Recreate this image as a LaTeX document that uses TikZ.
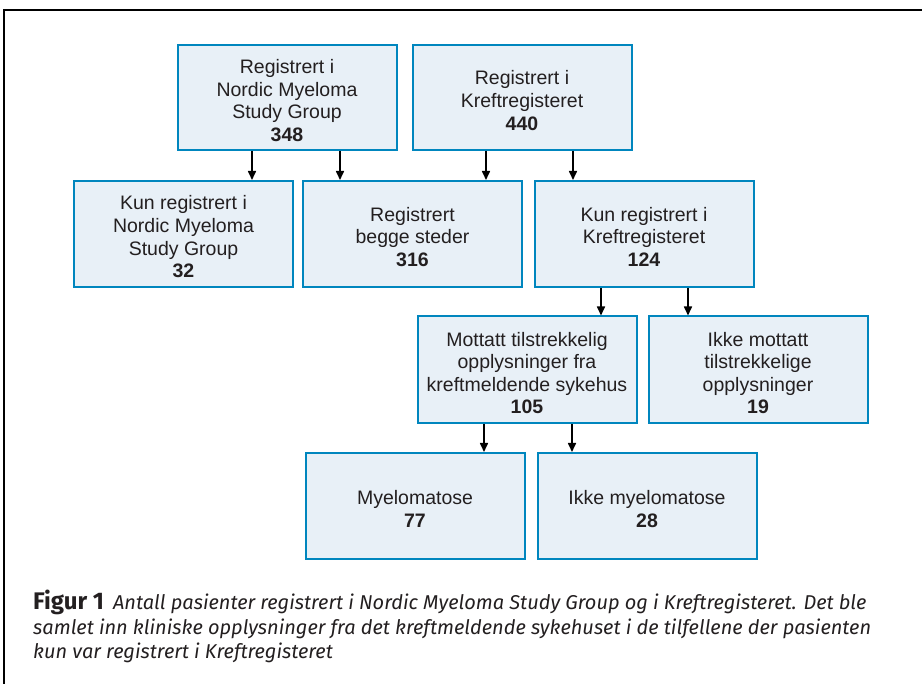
\documentclass[tikz,border=0pt]{standalone}
\usepackage{fontspec}
\setmainfont{Liberation Sans}
\newfontfamily\capfont{Fira Sans}
\usetikzlibrary{arrows.meta,calc}
\definecolor{boxblue}{RGB}{0,134,190}
\definecolor{boxfill}{RGB}{232,240,247}
\definecolor{txt}{RGB}{35,31,32}
\newcommand{\topgap}{\rule{0pt}{20pt}}
\begin{document}
\begin{tikzpicture}[x=1pt,y=-1pt,
  box/.style={draw=boxblue,fill=boxfill,line width=2pt,minimum width=219pt,
    minimum height=105pt,inner sep=0pt,align=center,
    font=\fontsize{19.5}{22.6}\selectfont,text=txt},
  arr/.style={line width=1.6pt,-{Triangle[length=9pt,width=8pt]},draw=black},
  frame/.style={line width=2.5pt,draw=black},
  captext/.style={anchor=north west,inner sep=0pt,align=left,text=txt,
    font=\capfont\fontsize{20}{24.5}\selectfont}]
\useasboundingbox (0,0) rectangle (922,684);
% frame
\coordinate (f1) at (922,10);
\coordinate (f0) at (4,10);
\coordinate (f2) at (4,684);
\draw[frame] (f1) -- (f0) -- (f2);
% boxes
\node[box] (A) at (287,97.5) {\topgap Registrert i\\Nordic Myeloma\\Study Group\\\textbf{348}};
\node[box] (B) at (522,97.5) {\topgap Registrert i\\Kreftregisteret\\\textbf{440}};
\node[box,minimum height=106pt] (C) at (183.5,234) {\topgap Kun registrert i\\Nordic Myeloma\\Study Group\\\textbf{32}};
\node[box,minimum height=106pt] (D) at (412.5,234) {\topgap Registrert\\begge steder\\\textbf{316}};
\node[box,minimum height=106pt] (E) at (644,234) {\topgap Kun registrert i\\Kreftregisteret\\\textbf{124}};
\node[box,minimum height=107pt] (F) at (527,370) {\topgap Mottatt tilstrekkelig\\opplysninger fra\\kreftmeldende sykehus\\\textbf{105}};
\node[box,minimum height=107pt] (G) at (758,370) {\topgap Ikke mottatt\\tilstrekkelige\\opplysninger\\\textbf{19}};
\node[box,minimum height=106pt] (H) at (415,506) {\topgap Myelomatose\\\textbf{77}};
\node[box,minimum height=106pt] (I) at (647,506) {\topgap Ikke myelomatose\\\textbf{28}};
% arrow start points
\path (A.south) ++(-35,0) coordinate (a1);
\path (A.south) ++(53,0) coordinate (a2);
\path (B.south) ++(-36,0) coordinate (b1);
\path (B.south) ++(51,0) coordinate (b2);
\path (E.south) ++(-43,0) coordinate (e1);
\path (E.south) ++(44,0) coordinate (e2);
\path (F.south) ++(-43,0) coordinate (g1);
\path (F.south) ++(45,0) coordinate (g2);
% arrows
\draw[arr] (a1) -- (a1 |- C.north);
\draw[arr] (a2) -- (a2 |- D.north);
\draw[arr] (b1) -- (b1 |- D.north);
\draw[arr] (b2) -- (b2 |- E.north);
\draw[arr] (e1) -- (e1 |- F.north);
\draw[arr] (e2) -- (e2 |- G.north);
\draw[arr] (g1) -- (g1 |- H.north);
\draw[arr] (g2) -- (g2 |- I.north);
% caption
\node[captext] (cap) at (33,590) {{\fontsize{24}{24.5}\selectfont\textbf{Figur 1}}\hspace{0.45em}\textit{Antall pasienter registrert i Nordic Myeloma Study Group og i Kreftregisteret. Det ble}\\
\textit{samlet inn kliniske opplysninger fra det kreftmeldende sykehuset i de tilfellene der pasienten}\\
\textit{kun var registrert i Kreftregisteret}};
\end{tikzpicture}
\end{document}
